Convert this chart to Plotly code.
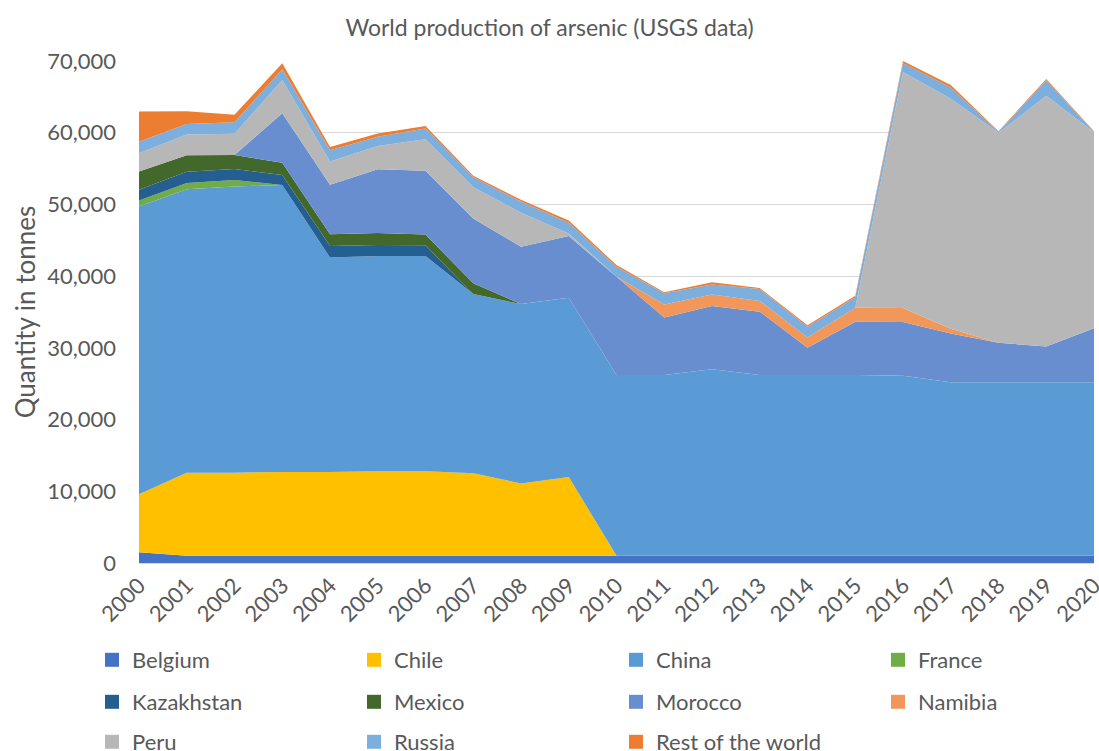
import plotly.graph_objects as go

years = list(range(2000, 2021))
year_labels = [str(y) for y in years]

belgium    = [1500, 1000, 1000, 1000, 1000, 1000, 1000, 1000, 1000, 1000, 1000, 1000, 1000, 1000, 1000, 1000, 1000, 1000, 1000, 1000, 1000]
chile      = [8100, 11600, 11600, 11700, 11700, 11800, 11800, 11500, 10100, 11000, 0, 0, 0, 0, 0, 0, 0, 0, 0, 0, 0]
china      = [40100, 39500, 39900, 40000, 29900, 30000, 30000, 25000, 25000, 25000, 25200, 25200, 26000, 25200, 25200, 25200, 25100, 24200, 24200, 24200, 24200]
france     = [850, 900, 900, 0, 0, 0, 0, 0, 0, 0, 0, 0, 0, 0, 0, 0, 0, 0, 0, 0, 0]
kazakhstan = [1500, 1550, 1550, 1400, 1600, 1550, 1500, 0, 0, 0, 0, 0, 0, 0, 0, 0, 0, 0, 0, 0, 0]
mexico     = [2550, 2300, 1950, 1700, 1650, 1650, 1500, 1500, 0, 0, 0, 0, 0, 0, 0, 0, 0, 0, 0, 0, 0]
morocco    = [0, 0, 0, 6900, 6900, 8900, 8900, 9050, 8000, 8600, 13700, 8050, 8850, 8850, 3800, 7450, 7500, 6800, 5500, 5000, 7550]
namibia    = [0, 0, 0, 0, 0, 0, 0, 0, 0, 0, 0, 1800, 1600, 1500, 1450, 1950, 1950, 650, 0, 0, 0]
peru       = [2550, 2900, 2950, 4650, 3250, 3250, 4400, 4350, 4750, 350, 0, 0, 0, 0, 0, 0, 32900, 32100, 29300, 34950, 27300]
russia     = [1600, 1450, 1600, 1500, 1550, 1300, 1500, 1400, 1550, 1500, 1400, 1550, 1400, 1650, 1500, 1450, 1250, 1550, 100, 2150, 50]
rest       = [4200, 1800, 1050, 850, 450, 450, 350, 200, 250, 300, 250, 150, 300, 150, 200, 200, 300, 350, 100, 200, 100]

series_names = ["Belgium", "Chile", "China", "France", "Kazakhstan", "Mexico",
                "Morocco", "Namibia", "Peru", "Russia", "Rest of the world"]
series_values = [belgium, chile, china, france, kazakhstan, mexico,
                 morocco, namibia, peru, russia, rest]
colors = ["#4472C4", "#FFC000", "#5B9BD5", "#70AD47", "#255E91", "#43682B",
          "#698ED0", "#F1975A", "#B7B7B7", "#7CAFDD", "#ED7D31"]

FONT = "Lato"
GREY = "#595959"

fig = go.Figure()
for name, vals, col in zip(series_names, series_values, colors):
    fig.add_trace(go.Scatter(
        x=years, y=vals, name=name, stackgroup="one", mode="none",
        fillcolor=col, line=dict(width=0), showlegend=False,
        hovertemplate=name + " %{x}: %{y:,}<extra></extra>"))

# legend entries (square keys), split into three rows
legend_ids = ["legend", "legend2", "legend3"]
for i, (name, col) in enumerate(zip(series_names, colors)):
    fig.add_trace(go.Scatter(
        x=[None], y=[None], name=name, mode="markers",
        marker=dict(symbol="square", size=14, color=col),
        legend=legend_ids[i // 4], showlegend=True))

plot_top, plot_bottom, plot_left, plot_right = 61, 563, 139, 1094
H, W = 751, 1099
ph = plot_bottom - plot_top
pw = plot_right - plot_left

def ypaper(py):
    return (plot_bottom - py) / ph

def xpaper(px):
    return (px - plot_left) / pw

leg_common = dict(orientation="h", xanchor="left", yanchor="middle",
                  traceorder="normal",
                  font=dict(family=FONT, size=22, color=GREY),
                  entrywidth=217, entrywidthmode="pixels",
                  bgcolor="rgba(0,0,0,0)", itemclick=False, itemdoubleclick=False)

LX = 92

fig.update_layout(
    width=W, height=H,
    margin=dict(l=plot_left, r=W - plot_right, t=plot_top, b=H - plot_bottom, autoexpand=False),
    paper_bgcolor="white", plot_bgcolor="white",
    title=dict(text="World production of arsenic (USGS data)",
               font=dict(family=FONT, size=23, color=GREY),
               x=0.5, xanchor="center", y=1 - 28 / H, yanchor="middle"),
    xaxis=dict(range=[2000, 2020], tickvals=years, ticktext=year_labels,
               tickangle=-45, tickfont=dict(family=FONT, size=22, color=GREY),
               ticklabeloverflow="allow",
               showgrid=False, zeroline=False, showline=True, linecolor="#D9D9D9",
               ticks="", fixedrange=True, automargin=False),
    yaxis=dict(range=[0, 70000], dtick=10000, tickformat=",",
               tickfont=dict(family=FONT, size=22, color=GREY),
               showgrid=True, gridcolor="#D9D9D9", gridwidth=1, zeroline=False,
               showline=False, ticks="", ticklabelstandoff=22,
               title=dict(text="Quantity in tonnes",
                          font=dict(family=FONT, size=26, color=GREY), standoff=4),
               fixedrange=True),
    legend=dict(x=xpaper(LX), y=ypaper(660), **leg_common),
    legend2=dict(x=xpaper(LX), y=ypaper(702), **leg_common),
    legend3=dict(x=xpaper(LX), y=ypaper(742), **leg_common),
)

fig.write_html("out.html", config={"displayModeBar": False},
               post_script="document.body.style.margin='0';document.body.style.overflow='hidden';")
